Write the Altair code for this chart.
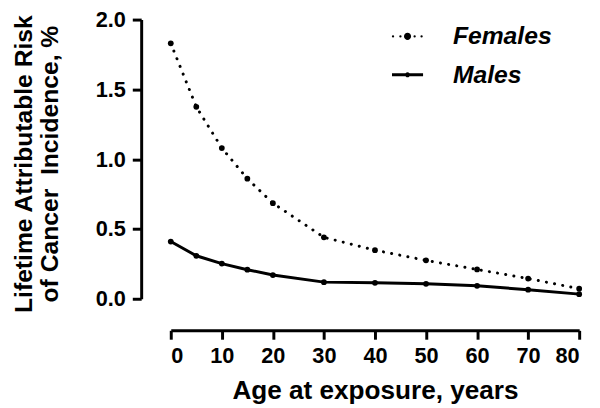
import math
import altair as alt
import pandas as pd

# ---- data ----
ages = [0, 5, 10, 15, 20, 30, 40, 50, 60, 70, 80]
females = [1.83, 1.375, 1.08, 0.86, 0.685, 0.44, 0.348, 0.275, 0.21, 0.145, 0.072]
males = [0.41, 0.308, 0.252, 0.208, 0.17, 0.119, 0.114, 0.107, 0.093, 0.065, 0.033]
series = ["Females", "Males"]
x_ticks = [0, 10, 20, 30, 40, 50, 60, 70, 80]
y_ticks = [0.0, 0.5, 1.0, 1.5, 2.0]

rows = []
for a, f, m in zip(ages, females, males):
    rows.append({"age": a, "risk": f, "sex": "Females"})
    rows.append({"age": a, "risk": m, "sex": "Males"})
df = pd.DataFrame(rows)

FONT = "Liberation Sans"


def disc(cx, r, n=16):
    pts = []
    for i in range(n):
        t = 2 * math.pi * i / n
        pts.append(f"{cx + r * math.cos(t):.3f},{r * math.sin(t):.3f}")
    return "M" + "L".join(pts) + "Z"


# legend symbols (unit box -1..1)
FEM_SYM = "".join([disc(-0.98, 0.08, 8), disc(-0.48, 0.08, 8), disc(0, 0.24),
                   disc(0.48, 0.08, 8), disc(0.95, 0.08, 8)])
MALE_SYM = "M-1.05,-0.1L1.05,-0.1L1.05,0.1L-1.05,0.1Z" + disc(0, 0.17)

x_enc = alt.X(
    "age:Q",
    scale=alt.Scale(domain=[0, 80], nice=False, zero=False),
    axis=alt.Axis(values=x_ticks, title="Age at exposure, years", offset=32,
                  labelPadding=7, titlePadding=11, titleFontSize=26.5),
)
y_enc = alt.Y(
    "risk:Q",
    scale=alt.Scale(domain=[0, 2], nice=False),
    axis=alt.Axis(values=y_ticks, format=".1f",
                  title=["Lifetime Attributable Risk", "of Cancer\u00a0 Incidence, %"],
                  offset=30, labelPadding=7, titlePadding=33, titleLineHeight=27,
                  titleFontSize=25, titleY=146),
)

base = alt.Chart(df)

fem_line = base.transform_filter(alt.datum.sex == "Females").mark_line(
    color="black", strokeWidth=3, strokeCap="round", strokeDash=[0.1, 8.3]
).encode(x=x_enc, y=y_enc)

male_line = base.transform_filter(alt.datum.sex == "Males").mark_line(
    color="black", strokeWidth=3
).encode(x="age:Q", y="risk:Q")

points = base.mark_point(filled=True, color="black", size=34, opacity=1).encode(
    x="age:Q", y="risk:Q"
)

legend_layer = base.transform_calculate(label="datum.sex").mark_point(
    filled=True, color="black", opacity=0
).encode(
    x="age:Q",
    y="risk:Q",
    shape=alt.Shape(
        "label:N",
        scale=alt.Scale(domain=series, range=[FEM_SYM, MALE_SYM]),
        legend=alt.Legend(
            title=None,
            orient="none",
            legendX=224,
            legendY=1,
            symbolSize=900,
            symbolOpacity=1,
            symbolFillColor="black",
            labelFont=FONT,
            labelFontSize=25,
            labelFontStyle="italic",
            labelFontWeight="bold",
            labelColor="black",
            labelOffset=30,
            rowPadding=10,
            padding=0,
        ),
    ),
)

chart = (
    alt.layer(fem_line, male_line, points, legend_layer)
    .properties(
        width=414,
        height=283,
        autosize=alt.AutoSizeParams(type="none"),
        padding={"left": 165, "top": 9, "right": 13, "bottom": 108},
    )
    .configure_view(stroke=None)
    .configure_axis(
        grid=False,
        domainColor="black",
        domainWidth=3,
        tickColor="black",
        tickWidth=3,
        tickSize=9,
        labelFont=FONT,
        labelFontSize=22,
        labelFontWeight="bold",
        labelColor="black",
        titleFont=FONT,
        titleFontSize=26,
        titleFontWeight="bold",
        titleColor="black",
    )
)

chart.save("out.html", embed_options={"renderer": "svg", "actions": False})
